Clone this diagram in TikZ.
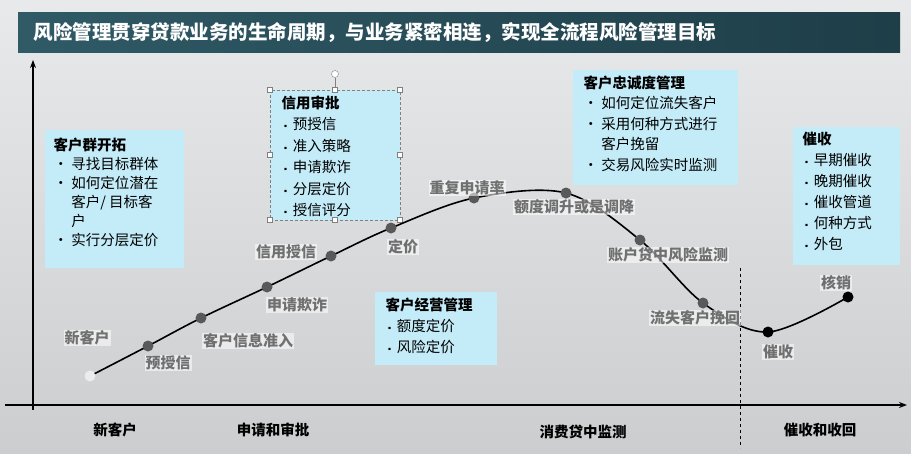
\documentclass[tikz,border=0pt]{standalone}
\usepackage{fontspec}
\setmainfont{Noto Sans CJK SC}
\usetikzlibrary{arrows.meta}
\definecolor{boxc}{HTML}{C4ECF8}
\definecolor{bg}{HTML}{E2E4E6}
\definecolor{tl}{HTML}{2F5A66}
\definecolor{td}{HTML}{1E3E48}
\definecolor{lbl}{HTML}{707070}
\tikzset{
 lab/.style={fill=white,fill opacity=0.55,text opacity=1,text=lbl,font=\bfseries\fontsize{15}{16}\selectfont,inner sep=1pt},
 gdot/.style={circle,fill=black!65,inner sep=0pt,minimum size=11pt},
 bdot/.style={circle,fill=black,inner sep=0pt,minimum size=11pt},
 hdl/.style={draw=black!50,fill=white,inner sep=0pt,minimum size=5pt},
 btm/.style={font=\bfseries\fontsize{14.5}{15}\selectfont}
}
\begin{document}
\begin{tikzpicture}[x=1pt,y=-1pt]
\useasboundingbox (0,0) rectangle (911,453);
\fill[top color=bg!80!white,bottom color=bg!90!black] (0,0) rectangle (911,453);
\shade[left color=tl,right color=td] (18,12) rectangle (900,52);
\node[anchor=west,text=white,font=\bfseries\fontsize{19.5}{20}\selectfont] (title) at (30,32) {风险管理贯穿贷款业务的生命周期，与业务紧密相连，实现全流程风险管理目标};
% axes
\coordinate (ytop) at (33,60);
\coordinate (xend) at (907,405);
\draw[line width=1.6pt,-{Stealth[length=8pt]}] (33,410) -- (ytop);
\draw[line width=1.6pt,-{Stealth[length=8pt]}] (5,405) -- (xend);
\coordinate (d1) at (740,268); \coordinate (d2) at (740,448);
\draw[dashed] (d1) -- (d2);
\node[btm] (b1) at (115,430) {新客户};
\node[btm] (b2) at (273,430) {申请和审批};
\node[btm] (b3) at (583,432) {消费贷中监测};
\node[btm] (b4) at (820,430) {催收和收回};
% boxes
\fill[boxc] (45,130) rectangle (184,268);
\node[anchor=north west,align=left,font=\fontsize{14.5}{19}\selectfont] (k1) at (50,134) {\textbf{客户群开拓}\\• 寻找目标群体\\• 如何定位潜在\\\phantom{• }客户/ 目标客\\\phantom{• }户\\• 实行分层定价};
\fill[boxc] (270,90) rectangle (400,220);
\draw[densely dashed,black!50] (270,90) rectangle (400,220);
\draw[black!50] (335,90) -- (335,78);
\foreach \p in {(270,90),(335,90),(400,90),(270,155),(400,155),(270,220),(335,220),(400,220)} \node[hdl] at \p {};
\node[circle,draw=black!50,fill=white,inner sep=0pt,minimum size=7pt] (rot) at (335,74) {};
\node[anchor=north west,align=left,font=\fontsize{14.5}{21.5}\selectfont] (k2) at (278,92) {\textbf{信用审批}\\{\footnotesize▪}\ 预授信\\{\footnotesize▪}\ 准入策略\\{\footnotesize▪}\ 申请欺诈\\{\footnotesize▪}\ 分层定价\\{\footnotesize▪}\ 授信评分};
\fill[boxc] (573,70) rectangle (738,185);
\node[anchor=north west,align=left,font=\fontsize{14.5}{20.5}\selectfont] (k3) at (580,72) {\textbf{客户忠诚度管理}\\• 如何定位流失客户\\• 采用何种方式进行\\\phantom{• }客户挽留\\• 交易风险实时监测};
\fill[boxc] (375,292) rectangle (497,365);
\node[anchor=north west,align=left,font=\fontsize{14.5}{21}\selectfont] (k4) at (382,294) {\textbf{客户经营管理}\\{\footnotesize▪}\ 额度定价\\{\footnotesize▪}\ 风险定价};
\fill[boxc] (793,127) rectangle (900,265);
\node[anchor=north west,align=left,font=\fontsize{14.5}{21}\selectfont] (k5) at (799,129) {\textbf{催收}\\{\footnotesize▪}\ 早期催收\\{\footnotesize▪}\ 晚期催收\\{\footnotesize▪}\ 催收管道\\{\footnotesize▪}\ 何种方式\\{\footnotesize▪}\ 外包};
% curve
\draw[line width=1.6pt] plot[smooth,tension=0.55] coordinates {(92,375) (148,346) (201,318) (267,287) (331,256) (391,228) (474,198) (566,193) (640,240) (703,303) (768,332) (848,297)};
\node[circle,fill=white!85!gray,inner sep=0pt,minimum size=11pt] (p0) at (90,376) {};
\node[gdot] (p1) at (148,346) {};
\node[gdot] (p2) at (201,318) {};
\node[gdot] (p3) at (267,287) {};
\node[gdot] (p4) at (331,256) {};
\node[gdot] (p5) at (391,228) {};
\node[gdot] (p6) at (474,198) {};
\node[gdot] (p7) at (566,193) {};
\node[gdot] (p8) at (640,240) {};
\node[gdot] (p9) at (703,303) {};
\node[bdot] (p10) at (768,332) {};
\node[bdot] (p11) at (848,297) {};
% labels
\node[lab] (l0) at (87,338) {新客户};
\node[lab] (l1) at (168,363) {预授信};
\node[lab] (l2) at (248,341) {客户信息准入};
\node[lab] (l3) at (297,305) {申请欺诈};
\node[lab] (l4) at (286,252) {信用授信};
\node[lab] (l5) at (403,247) {定价};
\node[lab] (l6) at (467,188) {重复申请率};
\node[lab] (l7) at (574,207) {额度调升或是调降};
\node[lab] (l8) at (668,255) {账户贷中风险监测};
\node[lab] (l9) at (695,318) {流失客户挽回};
\node[lab] (l10) at (778,352) {催收};
\node[lab] (l11) at (836,283) {核销};
\end{tikzpicture}
\end{document}
